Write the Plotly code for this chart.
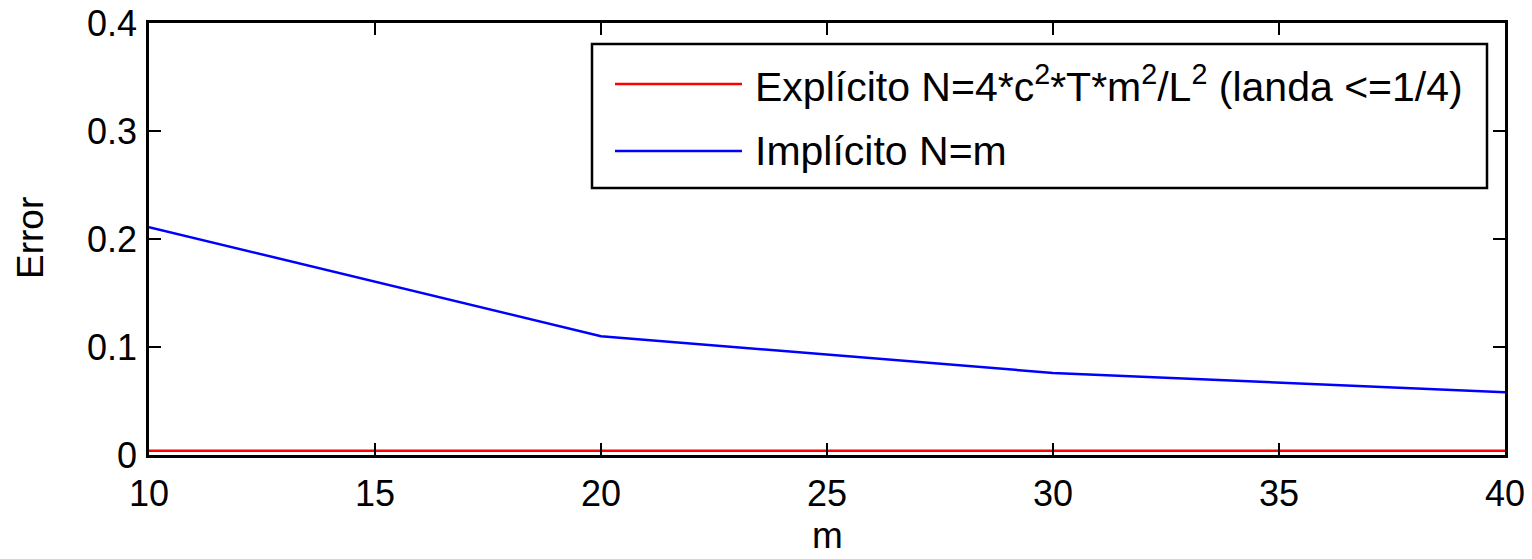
import plotly.graph_objects as go

# Error versus grid size m for the two schemes
m_values = [10, 20, 30, 40]
error_explicit = [0.004, 0.004, 0.004, 0.004]
error_implicit = [0.211, 0.110, 0.076, 0.058]

legend_labels = [
    "Explícito N=4*c<sup>2</sup>*T*m<sup>2</sup>/L<sup>2</sup> (landa <=1/4)",
    "Implícito N=m",
]
line_colors = ["#ff0000", "#0000ff"]

x_ticks = [10, 15, 20, 25, 30, 35, 40]
y_ticks = [0, 0.1, 0.2, 0.3, 0.4]

FONT = "Liberation Sans, Arial, sans-serif"
TICK_SIZE = 36
TITLE_SIZE = 37
LEGEND_SIZE = 41

W, H = 1532, 559
ML, MR, MT, MB = 149, 27, 23, 104

fig = go.Figure()
for ys, color, name in zip([error_explicit, error_implicit], line_colors, legend_labels):
    fig.add_trace(go.Scatter(
        x=m_values, y=ys, mode="lines", name=name,
        line=dict(color=color, width=2.5), showlegend=False,
    ))

axis_common = dict(
    showgrid=False, zeroline=False, showline=True, linecolor="black",
    linewidth=2.5, mirror="allticks", ticks="inside", ticklen=12,
    tickwidth=2, tickcolor="black", automargin=False,
    tickfont=dict(family=FONT, size=TICK_SIZE, color="black"),
)

fig.update_layout(
    width=W, height=H,
    margin=dict(l=ML, r=MR, t=MT, b=MB),
    paper_bgcolor="white", plot_bgcolor="white",
    xaxis=dict(range=[10, 40], tickvals=x_ticks, ticktext=[str(v) for v in x_ticks],
               ticklabelstandoff=5, **axis_common),
    yaxis=dict(range=[0, 0.4], tickvals=y_ticks,
               ticktext=["0", "0.1", "0.2", "0.3", "0.4"],
               ticklabelstandoff=2, **axis_common),
)

px_w, px_h = W - ML - MR, H - MT - MB


def px_to_paper(xp, yp):
    return (xp - ML) / px_w, 1 - (yp - MT) / px_h


# Axis titles
mx, my = px_to_paper((ML + W - MR) / 2, 558)
fig.add_annotation(xref="paper", yref="paper", x=mx, y=my, text="m", showarrow=False,
                   xanchor="center", yanchor="bottom",
                   font=dict(family=FONT, size=TITLE_SIZE, color="black"))
ex, ey = px_to_paper(31, 238)
fig.add_annotation(xref="paper", yref="paper", x=ex, y=ey, text="Error", showarrow=False,
                   textangle=-90, xanchor="center", yanchor="middle",
                   font=dict(family=FONT, size=TITLE_SIZE, color="black"))

# Boxed legend in the upper right of the axes
x0, y0 = px_to_paper(592, 44)
x1, y1 = px_to_paper(1487, 188)
fig.add_shape(type="rect", xref="paper", yref="paper", x0=x0, y0=y1, x1=x1, y1=y0,
              line=dict(color="black", width=2.5), fillcolor="white", layer="above")

for row_y, color, label in zip([84, 151], line_colors, legend_labels):
    lx0, ly = px_to_paper(615, row_y)
    lx1, _ = px_to_paper(742, row_y)
    fig.add_shape(type="line", xref="paper", yref="paper", x0=lx0, x1=lx1, y0=ly, y1=ly,
                  line=dict(color=color, width=2.5), layer="above")
    tx, _ = px_to_paper(753, row_y)
    fig.add_annotation(xref="paper", yref="paper", x=tx, y=ly, text=label,
                       showarrow=False, xanchor="left", yanchor="middle",
                       font=dict(family=FONT, size=LEGEND_SIZE, color="black"))

fig.write_html("out.html")
